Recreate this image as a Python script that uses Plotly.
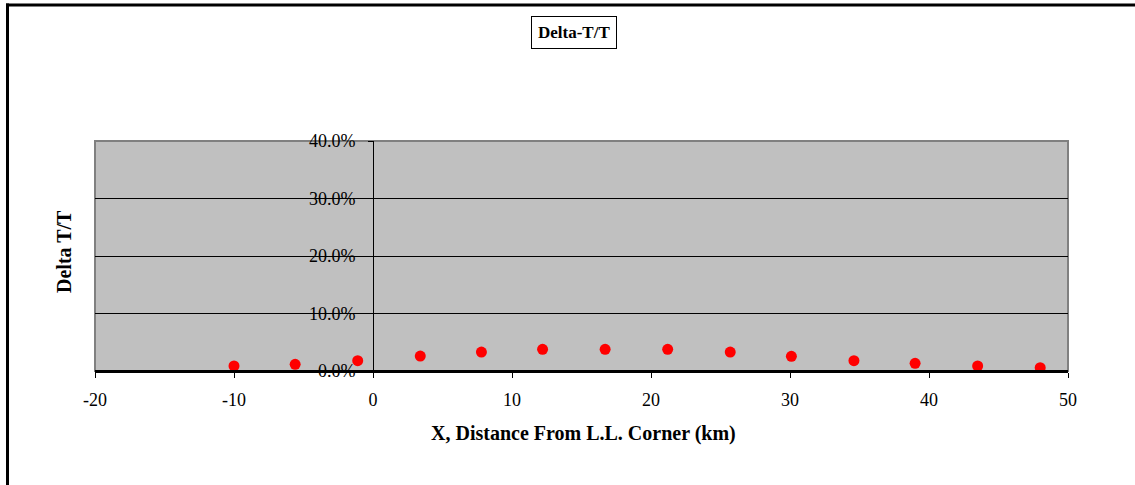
import plotly.graph_objects as go

x_km = [-10.0, -5.6, -1.1, 3.4, 7.8, 12.2, 16.7, 21.2, 25.7, 30.1, 34.6, 39.0, 43.5, 48.0]
delta_t = [0.0087, 0.0117, 0.018, 0.026, 0.033, 0.0377, 0.0377, 0.0377, 0.033, 0.0255, 0.018, 0.0133, 0.0087, 0.0058]
y_ticks = [0.0, 0.1, 0.2, 0.3, 0.4]
y_tick_labels = ["0.0%", "10.0%", "20.0%", "30.0%", "40.0%"]
x_ticks = [-20, -10, 0, 10, 20, 30, 40, 50]
x_tick_labels = ["-20", "-10", "0", "10", "20", "30", "40", "50"]

W, H = 1135, 485
L, R, T, B = 95, 1068, 141, 371

def px(xp):
    return (xp - L) / (R - L)

def py(yp):
    return (B - yp) / (B - T)

font = "Liberation Serif, Times New Roman, serif"

fig = go.Figure()
fig.add_trace(go.Scatter(
    x=x_km, y=delta_t, mode="markers",
    marker=dict(color="#FF0000", size=11, line=dict(width=0)),
    showlegend=False,
))

fig.update_layout(
    width=W, height=H,
    margin=dict(l=L, r=W - R, t=T, b=H - B),
    paper_bgcolor="white",
    plot_bgcolor="#C0C0C0",
    font=dict(family=font, size=18, color="black"),
    xaxis=dict(
        range=[-20, 50], tickvals=x_ticks, ticktext=x_tick_labels,
        ticks="outside", ticklen=5, ticklabelstandoff=6,
        tickcolor="black", showline=True, linecolor="black", linewidth=2,
        showgrid=False, zeroline=False, domain=[0, 1],
        tickfont=dict(family=font, size=18),
    ),
    yaxis=dict(
        range=[0, 0.4], tickvals=y_ticks, ticktext=y_tick_labels,
        anchor="free", position=20 / 70, ticks="outside", ticklen=5,
        ticklabelstandoff=9,
        tickcolor="black", showline=True, linecolor="black", linewidth=1,
        showgrid=True, gridcolor="black", gridwidth=1, zeroline=False,
        tickfont=dict(family=font, size=18),
    ),
    shapes=[
        dict(type="rect", xref="paper", yref="paper", x0=0, x1=1, y0=0, y1=1,
             line=dict(color="#808080", width=2), layer="below"),
        dict(type="line", xref="paper", yref="paper", x0=0, x1=1, y0=0, y1=0,
             line=dict(color="black", width=2)),
        dict(type="line", xref="paper", yref="paper", x0=px(7.5), x1=px(7.5),
             y0=py(3.5), y1=py(500), line=dict(color="black", width=3)),
        dict(type="line", xref="paper", yref="paper", x0=px(6), x1=px(1150),
             y0=py(5), y1=py(5), line=dict(color="black", width=3)),
    ],
    annotations=[
        dict(text="<b>Delta-T/T</b>", xref="paper", yref="paper",
             x=px(574), y=py(32), xanchor="center", yanchor="middle",
             showarrow=False,
             font=dict(family=font, size=17), bordercolor="black",
             borderwidth=1, borderpad=6, bgcolor="white"),
        dict(text="<b>Delta T/T</b>", xref="paper", yref="paper",
             x=px(64), y=py(252), xanchor="center", yanchor="middle",
             showarrow=False, textangle=-90,
             font=dict(family=font, size=20)),
        dict(text="<b>X, Distance From L.L. Corner (km)</b>", xref="paper",
             yref="paper", x=px(583), y=py(433), xanchor="center",
             yanchor="middle", showarrow=False,
             font=dict(family=font, size=20)),
    ],
)

fig.write_html("out.html")
